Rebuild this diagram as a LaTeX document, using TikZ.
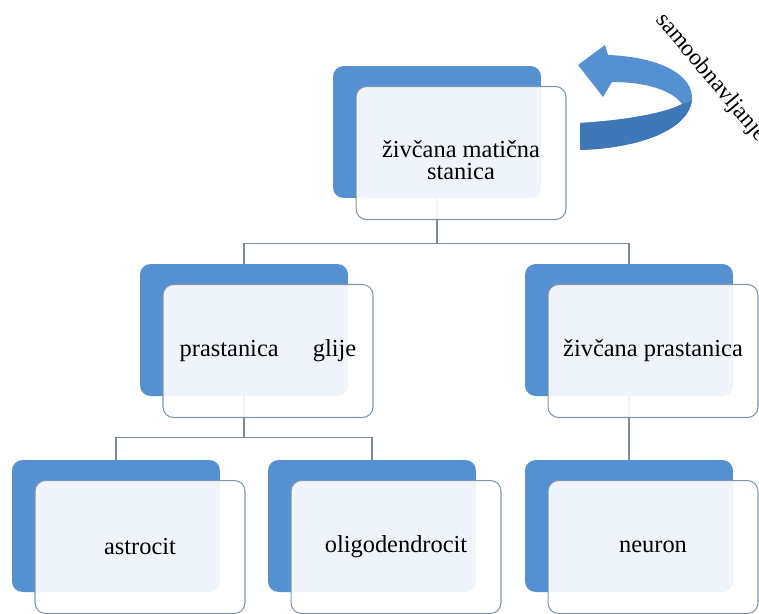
\documentclass[tikz,border=0pt]{standalone}
\usepackage{fontspec}
\setmainfont{Liberation Serif}
\newfontfamily\cardfont{Liberation Serif}
\usepackage{tikz}
\usetikzlibrary{%
  positioning,%
  calc%
}

\definecolor{cellblue}{HTML}{5590D0}
\definecolor{celldark}{HTML}{3F78B6}
\definecolor{cellline}{HTML}{8096AC}
\definecolor{connline}{HTML}{7D8A97}

\tikzset{
  back/.style={fill=cellblue, rounded corners=6pt, inner sep=0pt,
    minimum width=4.16cm, minimum height=2.64cm},
  front/.style={draw=cellline, line width=0.6pt, fill=white, fill opacity=0.9,
    text opacity=1, rounded corners=6pt, inner sep=0pt, align=center,
    minimum width=4.2cm, minimum height=2.66cm,
    font=\cardfont\fontsize{13.9}{12.8}\selectfont},
  conn/.style={draw=connline, line width=0.7pt}
}

\begin{document}
\begin{tikzpicture}[x=0.02cm,y=-0.02cm]
\useasboundingbox (0,0) rectangle (759,613);

% back cards
\node[back] (tb) at (437,132) {};
\node[back] (gb) at (244,330) {};
\node[back] (nb) at (629,330) {};
\node[back] (ab) at (116,526) {};
\node[back] (ob) at (372,526) {};
\node[back] (rb) at (629,526) {};

% connectors (behind the front cards)
\draw[conn] (tb.south) -- ++(0,45) -| (gb.north);
\draw[conn] (tb.south) -- ++(0,45) -| (nb.north);
\draw[conn] (gb.south) -- ++(0,41) -| (ab.north);
\draw[conn] (gb.south) -- ++(0,41) -| (ob.north);
\draw[conn] (nb.south) -- (rb.north);

% front cards
\node[front] (tf) at ($(tb)+(24,21)$) {\rule{0pt}{18pt}živčana matična\\stanica};
\node[front] (gf) at ($(gb)+(24,21)$) {prastanica\hspace{1.4em}glije};
\node[front] (nf) at ($(nb)+(24,21)$) {živčana prastanica};
\node[front] (af) at ($(ab)+(24,21)$) {astrocit};
\node[front] (of) at ($(ob)+(24,21)$) {oligodendrocit};
\node[front] (rf) at ($(rb)+(24,21)$) {neuron};

% self-renewal arrow
\fill[cellblue] (580,123) .. controls (630,120) and (668,112) .. (682,104)
  .. controls (672,90) and (645,82) .. (612,82)
  -- (603,97) -- (578,65) -- (605,45) -- (608,55)
  .. controls (660,57) and (694,75) .. (692,100)
  .. controls (688,130) and (640,148) .. (580,150) -- cycle;
\fill[celldark] (580,123) .. controls (630,120) and (668,112) .. (682,104)
  .. controls (688,102) and (692,101) .. (692,100)
  .. controls (688,130) and (640,148) .. (580,150) -- cycle;
\node[rotate=-50, font=\cardfont\fontsize{13.4}{14}\selectfont] (self) at (711,78) {samoobnavljanje};
\end{tikzpicture}
\end{document}
